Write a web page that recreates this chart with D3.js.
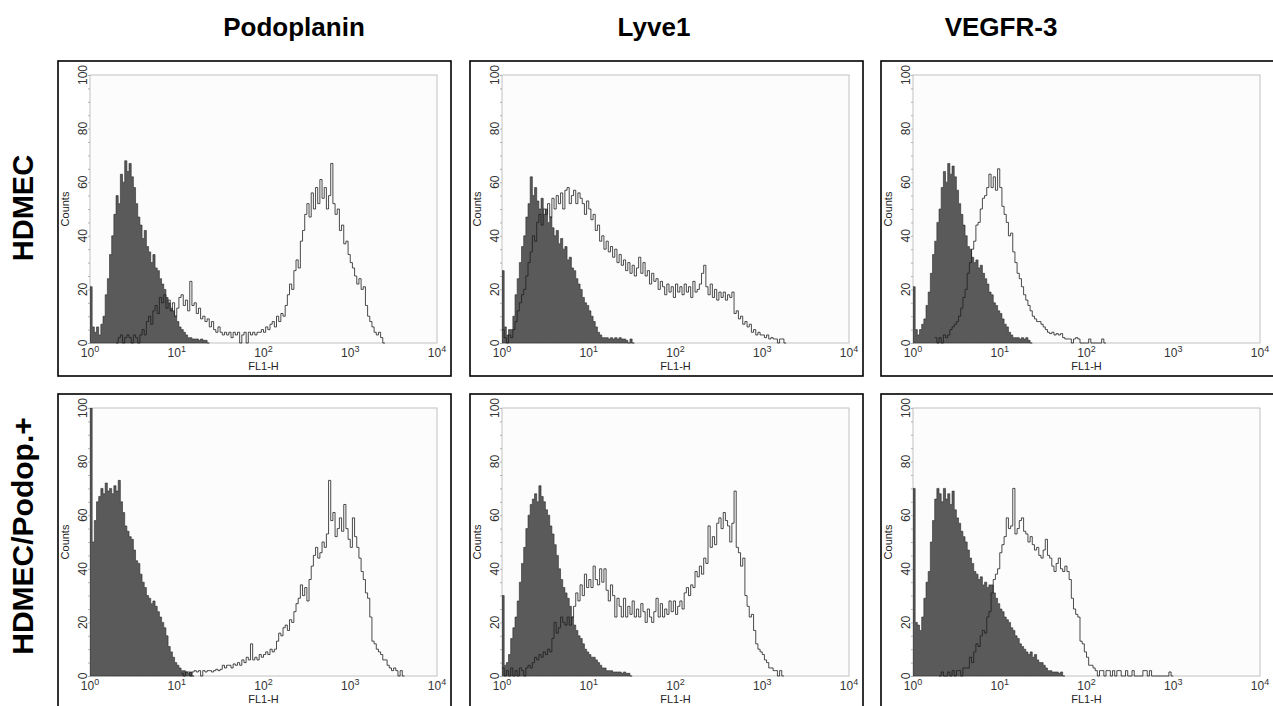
<!DOCTYPE html>
<html>
<head>
<meta charset="utf-8">
<script src="https://cdn.jsdelivr.net/npm/d3@7"></script>
<style>
  body { margin: 0; background: #fff; }
  svg { display: block; font-family: "Liberation Sans", Arial, sans-serif; }
</style>
</head>
<body>
<svg id="chart" width="1273" height="706"></svg>
<script>
// ---- data ----
let columns = ["Podoplanin", "Lyve1", "VEGFR-3"];
let rows = ["HDMEC", "HDMEC/Podop.+"];
let xTicks = [1, 10, 100, 1000, 10000];
let yTicks = [0, 20, 40, 60, 80, 100];
let binWidth = 0.025; // decades per channel bin

// isotype control (filled) and stained (open) histograms, counts per bin
let hdmecPodoIso = [21,6,4,6,3,7,10,18,24,33,40,48,55,52,63,60,68,64,67,62,58,52,47,44,39,42,36,34,30,33,28,27,24,22,20,17,15,13,12,10,8,6,5,4,3,2,2,1.5,1.5,1.5,1,1.5,1,1,0];
let hdmecPodoStain = [0,2,3,0,2,3,2,0,3,2,0,3,5,3,8,10,7,12,14,11,17,15,18,13,16,12,15,10,13,17,18,14,16,12,23,14,15,11,13,9,10,8,9,6,8,5,4,6,4,3,4,3,4,2,4,3,4,0,3,4,0,4,3,4,3,4,4,5,4,6,5,7,8,6,10,8,11,10,14,18,22,20,27,31,28,38,42,48,52,47,56,50,58,52,61,54,58,50,55,67,52,48,50,42,44,37,38,33,30,28,25,22,24,20,21,14,10,8,6,4,3,4,2,0];
let hdmecLyveIso = [27,6,3,5,5,10,18,24,30,36,40,47,52,62,55,58,53,50,54,48,50,45,47,43,40,42,37,39,35,36,31,32,28,27,24,22,20,17,15,14,12,10,8,6,4,3,2,2,2,1.5,2,1.5,2,1.5,2,1.5,1.5,1,0,1.5,0];
let hdmecLyveStain = [5,2,0,3,2,5,8,12,15,18,20,25,30,34,40,38,45,48,44,50,48,52,47,54,50,55,52,56,50,57,58,52,55,57,52,56,54,52,48,53,50,46,48,42,44,38,40,35,38,34,36,32,35,30,33,29,31,27,30,26,29,25,28,32,26,30,25,27,22,26,23,24,20,23,21,18,22,19,21,17,22,19,21,18,22,19,21,17,23,19,20,22,26,29,21,18,22,17,20,16,19,17,19,16,18,17,19,11,12,9,10,7,8,6,7,4,5,3,4,3,3,2,3,1.5,2,1.5,1.5,0,1.5,1.5,0];
let hdmecVegfrIso = [21,5,3,5,7,9,14,19,26,33,38,45,50,58,64,60,67,63,66,62,57,52,48,44,40,36,35,32,30,31,28,29,26,24,22,19,18,15,14,12,11,9,7,6,4,3,2,2,2,1.5,2,1.5,2,1,0];
let hdmecVegfrStain = [2,0,2,0,3,2,3,5,6,7,8,10,13,17,20,26,30,35,38,44,45,50,54,55,58,63,58,62,57,65,58,51,48,45,40,41,34,30,26,24,21,18,16,14,12,10,9,8,8,7,6,5,4,3.5,4,3,3.5,3,3.5,2,1.5,1.5,1.5,0,1.5,2,1.5,0,0,0,0,1.5,0,0,0,0,0,1.5,0];
let podopPodoIso = [100,50,58,65,67,70,68,72,69,70,68,71,69,73,65,61,56,54,52,51,47,43,42,38,35,33,30,29,27,28,26,24,22,20,18,15,11,9,7,5,4,3,2,2,1.5,1,1.5,0];
let podopPodoStain = [1,0,1.5,1.5,0,1.5,2,1.5,2,0,2,1.5,2,2,1.5,2,2.5,2,2.5,4,3,4,4,3,4.5,4,5,4,6,5,7,6,12,6,7,6,8,7,8,9,8,10,9,10,13,16,15,18,19,17,21,20,24,27,29,34,30,33,28,36,41,45,48,44,46,50,48,53,73,58,61,52,55,59,54,64,55,51,48,59,52,48,44,39,36,31,29,22,13,12,10,9,8,6,6,4,3,2,3,2,0,2,0];
let podopLyveIso = [30,4,5,8,14,18,22,28,35,42,48,55,60,64,66,68,65,71,67,65,62,60,56,53,49,45,40,36,33,31,29,26,22,19,17,15,14,12,10,9,8,7,7,6,5,4,3,3,2,2,2,1.5,1.5,1.5,1.5,1,1.5,1,1,0];
let podopLyveStain = [3,0,2,0,3,0,2,0,3,2,0,3,4,3,5,7,6,8,7,9,8,10,9,14,20,16,18,22,20,19,22,19,22,26,31,28,34,30,38,33,36,33,41,36,34,40,35,40,32,28,34,30,22,29,26,22,29,22,26,23,28,22,25,22,27,24,20,25,22,20,24,29,22,27,22,25,23,28,24,28,23,26,28,25,31,33,30,34,33,39,37,41,38,44,42,56,48,52,49,57,59,55,61,58,56,50,57,69,48,46,41,44,30,26,22,23,17,12,10,9,8,6,5,3,3,2,2,0,2,0];
let podopVegfrIso = [70,20,19,17,22,29,35,39,50,58,66,70,68,65,70,66,68,64,69,62,59,57,54,52,50,47,44,42,39,38,36,37,34,35,33,34,34,31,29,27,25,24,22,21,20,18,17,15,14,12,11,10,9,8,9,7,8,6,5,5,4,3,2,2,1.5,1.5,1.5,1,1.5,0];
let podopVegfrStain = [0,1.5,0,0,1.5,0,2,0,2,2,0,3,3,3,7,5,9,12,11,15,17,16,22,24,31,36,38,40,46,49,52,59,55,56,70,53,55,58,59,54,53,50,52,49,47,48,45,44,47,51,45,44,41,39,42,44,40,39,41,39,36,29,25,23,22,13,12,9,7,4,4,3,2,0,2,2,0,2,2,0,2,0,2,2,0,0,2,0,0,2,0,0,0,0,2,2,0,2,0,0,0,0,0,0,0,0,1.5,0];

// first bin of each histogram, panels row by row
let isoStart = [0, 0, 0, 0, 0, 0];
let stainStart = [12, 0, 10, 42, 0, 12];
let isoSeries = [hdmecPodoIso, hdmecLyveIso, hdmecVegfrIso, podopPodoIso, podopLyveIso, podopVegfrIso];
let stainSeries = [hdmecPodoStain, hdmecLyveStain, hdmecVegfrStain, podopPodoStain, podopLyveStain, podopVegfrStain];

// ---- layout ----
let frameX = [58, 470, 881];
let frameY = [61, 394];
let frameW = 393, frameH = 315;
let plotL = 32, plotR = 379, plotT = 14, plotB = 282;
let titleX = [294, 654, 1001];
let rowLabelY = [208, 536];
let rowLabelSize = [29, 30];

let svg = d3.select("#chart");

// step histogram points, with a closing point after the last bin
let toPoints = (start, counts) => {
    let pts = counts.map((c, i) => ({v: Math.pow(10, (start + i) * binWidth), c: c}));
    pts.push({v: Math.pow(10, (start + counts.length) * binWidth), c: counts[counts.length - 1]});
    return pts;
};

for (let r = 0; r < rows.length; r++){
    for (let c = 0; c < columns.length; c++){
        let idx = r * columns.length + c;
        let g = svg.append("g").attr("transform", `translate(${frameX[c]},${frameY[r]})`);

        let x = d3.scaleLog().domain([1, 10000]).range([plotL, plotR]);
        let y = d3.scaleLinear().domain([0, 100]).range([plotB, plotT]);

        g.append("rect")
            .attr("x", 0).attr("y", 0)
            .attr("width", frameW).attr("height", frameH)
            .attr("fill", "#fff")
            .attr("stroke", "#000")
            .attr("stroke-width", 1.6);

        g.append("rect")
            .attr("x", plotL).attr("y", plotT)
            .attr("width", plotR - plotL).attr("height", plotB - plotT)
            .attr("fill", "#fcfcfc")
            .attr("stroke", "#c2c2c2")
            .attr("stroke-width", 1);

        // minor y ticks
        g.append("g")
            .attr("transform", `translate(${plotL},0)`)
            .call(d3.axisLeft(y).tickValues(d3.range(0, 101, 5)).tickSize(2).tickFormat(""))
            .call(a => a.select(".domain").remove())
            .call(a => a.selectAll("line").attr("stroke", "#b0b0b0"));

        let clipId = "clip-" + idx;
        g.append("clipPath").attr("id", clipId)
            .append("rect")
            .attr("x", plotL).attr("y", plotT)
            .attr("width", plotR - plotL).attr("height", plotB - plotT + 1);

        let area = d3.area()
            .curve(d3.curveStepAfter)
            .x(d => x(d.v))
            .y0(y(0))
            .y1(d => y(d.c));

        let line = d3.line()
            .curve(d3.curveStepAfter)
            .x(d => x(d.v))
            .y(d => y(d.c));

        let pg = g.append("g").attr("clip-path", `url(#${clipId})`);

        pg.append("path")
            .datum(toPoints(isoStart[idx], isoSeries[idx]))
            .attr("d", area)
            .attr("fill", "#5a5a5a")
            .attr("stroke", "#2a2a2a")
            .attr("stroke-width", 0.6);

        pg.append("path")
            .datum(toPoints(stainStart[idx], stainSeries[idx]))
            .attr("d", line)
            .attr("fill", "none")
            .attr("stroke", "#1e1e1e")
            .attr("stroke-width", 0.8);

        // y tick labels (rotated)
        for (let t of yTicks){
            g.append("text")
                .attr("transform", `translate(${plotL - 3.5},${y(t)}) rotate(-90)`)
                .attr("text-anchor", "middle")
                .attr("font-size", 12)
                .attr("fill", "#333")
                .text(t);
        }

        g.append("text")
            .attr("transform", `translate(${plotL - 21.5},${(plotT + plotB) / 2}) rotate(-90)`)
            .attr("text-anchor", "middle")
            .attr("font-size", 11)
            .attr("fill", "#222")
            .text("Counts");

        // x tick labels 10^n
        for (let t of xTicks){
            let lab = g.append("text")
                .attr("x", x(t))
                .attr("y", plotB + 14)
                .attr("text-anchor", "middle")
                .attr("font-size", 12)
                .attr("fill", "#333");
            lab.append("tspan").text("10");
            lab.append("tspan")
                .attr("dy", -5)
                .attr("font-size", 9)
                .text(Math.round(Math.log10(t)));
        }

        g.append("text")
            .attr("x", (plotL + plotR) / 2)
            .attr("y", plotB + 27)
            .attr("text-anchor", "middle")
            .attr("font-size", 11)
            .attr("fill", "#222")
            .text("FL1-H");
    }
}

// column titles
columns.forEach((name, i) => {
    svg.append("text")
        .attr("x", titleX[i])
        .attr("y", 36)
        .attr("text-anchor", "middle")
        .attr("font-size", 26)
        .attr("font-weight", "bold")
        .text(name);
});

// row labels
rows.forEach((name, i) => {
    svg.append("text")
        .attr("transform", `translate(33,${rowLabelY[i]}) rotate(-90)`)
        .attr("text-anchor", "middle")
        .attr("font-size", rowLabelSize[i])
        .attr("font-weight", "bold")
        .text(name);
});
</script>
</body>
</html>
